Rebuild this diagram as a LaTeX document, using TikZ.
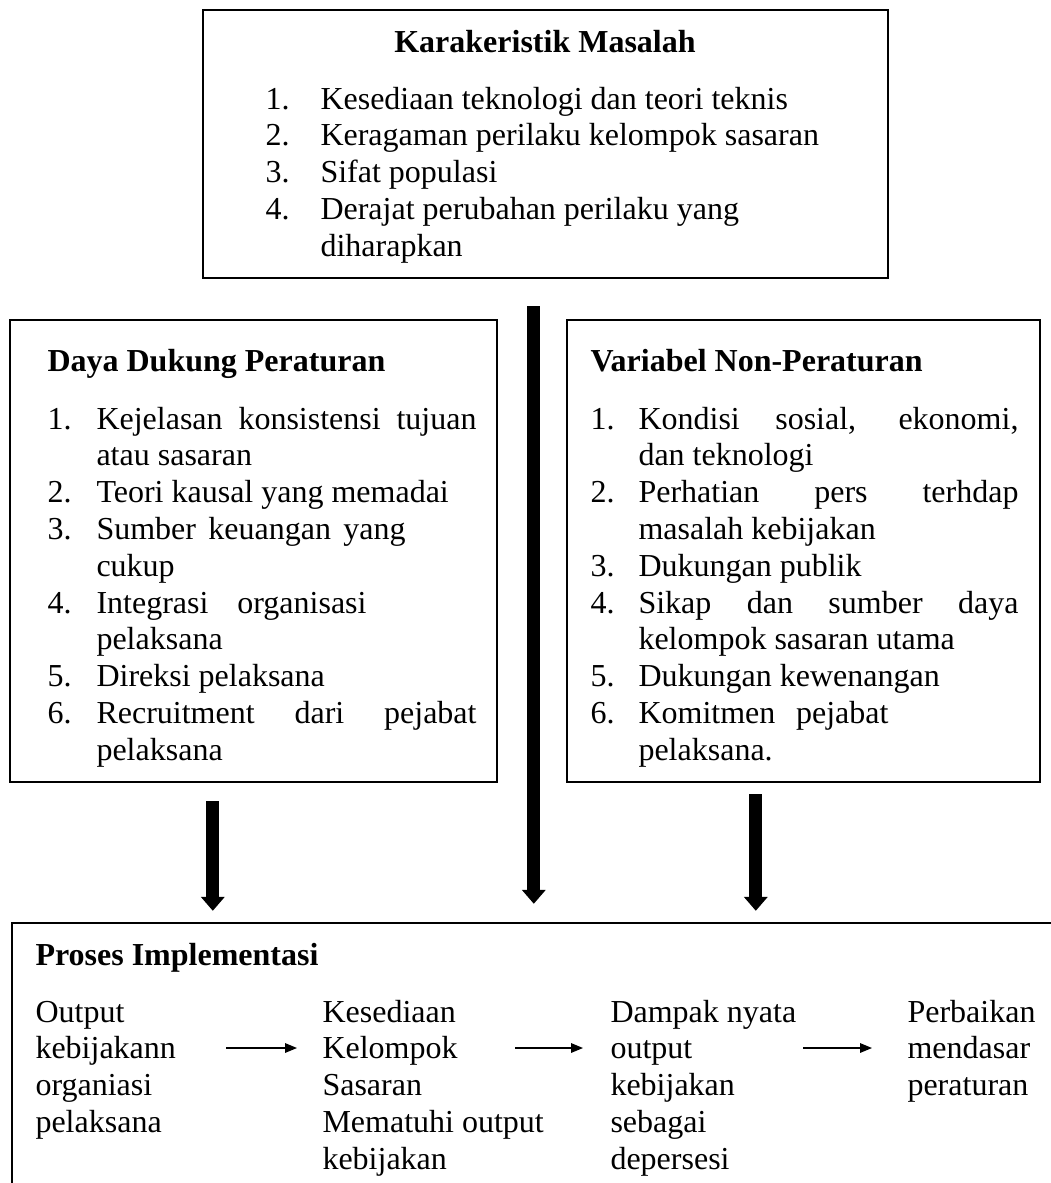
\documentclass[tikz,border=0pt]{standalone}
\usepackage{fontspec}
\setmainfont{Liberation Serif}
\usetikzlibrary{arrows.meta,fit,calc}
\newlength{\px}
\setlength{\px}{0.375pt}
\newcommand{\jl}[2]{\makebox[#1\px][s]{#2}}
\newcommand{\col}[1]{\begin{tabular}[t]{@{}l@{}}#1\end{tabular}}

\begin{document}
\begin{tikzpicture}[
  x=0.375pt, y=-0.375pt,
  every node/.style={font=\fontsize{12}{13.8}\selectfont, inner sep=0pt},
  box/.style={draw, line width=0.9pt, inner sep=0pt},
  hd/.style={font=\fontsize{12}{13.8}\selectfont\bfseries, anchor=base west},
  txt/.style={anchor=base west, align=left},
  bigar/.style={line width=4.9pt, -{Triangle[width=8.6pt,length=5.2pt]}},
  ar/.style={line width=0.5pt, -{Triangle[width=3.6pt,length=4.5pt]}},
]
  \useasboundingbox (0,0) rectangle (1051,1183);

  % BOXES
  \node[box, fit={(203,10) (888,278)}] (boxK) {};
  \node[box, fit={(10,320) (497,782)}] (boxD) {};
  \node[box, fit={(567,320) (1040,782)}] (boxV) {};
  \node[box, fit={(12,923) (1120,1260)}] (boxP) {};

  % KARAKTERISTIK
  \node[hd, anchor=base] (hK) at (545,52) {Karakeristik Masalah};
  \node[txt] (lK) at (265,109) {\begin{tabular}[t]{@{}p{55\px}@{}l@{}}
    1. & Kesediaan teknologi dan teori teknis\\
    2. & Keragaman perilaku kelompok sasaran\\
    3. & Sifat populasi\\
    4. & Derajat perubahan perilaku yang\\
       & diharapkan
  \end{tabular}};

  % DAYA DUKUNG
  \node[hd] (hD) at (47,371) {Daya Dukung Peraturan};
  \node[txt] (lD) at (47,429) {\begin{tabular}[t]{@{}p{49\px}@{}l@{}}
    1. & \jl{380}{Kejelasan konsistensi tujuan}\\
       & atau sasaran\\
    2. & Teori kausal yang memadai\\
    3. & \jl{309}{Sumber keuangan yang}\\
       & cukup\\
    4. & \jl{270}{Integrasi organisasi}\\
       & pelaksana\\
    5. & Direksi pelaksana\\
    6. & \jl{380}{Recruitment dari pejabat}\\
       & pelaksana
  \end{tabular}};

  % NON-PERATURAN
  \node[hd] (hV) at (590,371) {Variabel Non-Peraturan};
  \node[txt] (lV) at (590,429) {\begin{tabular}[t]{@{}p{48\px}@{}l@{}}
    1. & \jl{380}{Kondisi sosial, ekonomi,}\\
       & dan teknologi\\
    2. & \jl{380}{Perhatian pers terhdap}\\
       & masalah kebijakan\\
    3. & Dukungan publik\\
    4. & \jl{380}{Sikap dan sumber daya}\\
       & kelompok sasaran utama\\
    5. & Dukungan kewenangan\\
    6. & \jl{250}{Komitmen pejabat}\\
       & pelaksana.
  \end{tabular}};

  % PROSES
  \node[hd] (hP) at (35,965) {Proses Implementasi};
  \node[txt] (p1) at (35,1022) {\col{Output\\kebijakann\\organiasi\\pelaksana}};
  \node[txt] (p2) at (322,1022) {\col{Kesediaan\\Kelompok\\Sasaran\\Mematuhi output\\kebijakan}};
  \node[txt] (p3) at (610,1022) {\col{Dampak nyata\\output\\kebijakan\\sebagai\\depersesi}};
  \node[txt] (p4) at (907,1022) {\col{Perbaikan\\mendasar\\peraturan}};

  % ARROWS
  \draw[bigar] ($(boxK.south west)+(332,27)$) -- ($(boxP.north west)+(523,-18)$);
  \draw[bigar] ($(boxD.south west)+(204,18)$) -- ($(boxP.north west)+(202,-11)$);
  \draw[bigar] ($(boxV.south west)+(190,11)$) -- ($(boxP.north west)+(745,-11)$);

  \coordinate (s1) at (226,1048); \coordinate (t1) at (297,1048);
  \coordinate (s2) at (515,1048); \coordinate (t2) at (583,1048);
  \coordinate (s3) at (803,1048); \coordinate (t3) at (872,1048);
  \foreach \a/\b in {s1/t1,s2/t2,s3/t3}
    \draw[ar] (\a) -- (\b);
\end{tikzpicture}
\end{document}
